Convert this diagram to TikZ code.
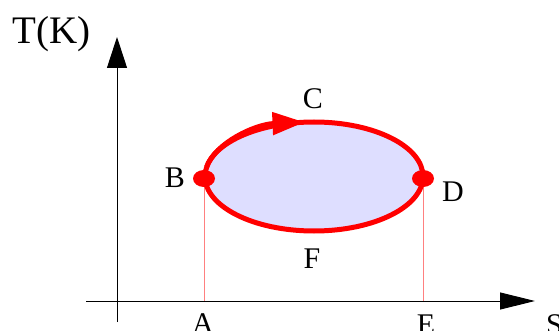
\documentclass[tikz,border=0pt]{standalone}
\usepackage{fontspec}
\setmainfont{Liberation Serif}
\usetikzlibrary{arrows.meta, positioning}
\tikzset{
    axisline/.style={draw=black, line width=1pt},
    cycleline/.style={draw=red, line width=5pt},
    dropline/.style={draw=red!50, line width=1pt},
    statedot/.style={fill=red, draw=none},
    statelabel/.style={font=\fontsize{30}{36}\selectfont, anchor=base, inner sep=0pt},
}
\begin{document}
\begin{tikzpicture}[x=1pt, y=-1pt]
\useasboundingbox (0,0) rectangle (559,331);
% points
\coordinate (cen) at (314,176.5);
\coordinate (B) at (204,178.5);
\coordinate (D) at (423,178.5);
\coordinate (A) at (204,301);
\coordinate (E) at (423,301);
% axes
\coordinate (xs) at (86,301);
\coordinate (xe) at (535,301);
\coordinate (ys) at (117,322);
\coordinate (ye) at (117,37);
\draw[axisline, -{Triangle[length=35pt, width=17pt]}] (xs) -- (xe);
\draw[axisline, -{Triangle[length=31pt, width=20pt]}] (ys) -- (ye);
% drop lines
\draw[dropline] (B) -- (A);
\draw[dropline] (D) -- (E);
% cycle
\path[cycleline, fill=blue!13] (cen) ellipse [x radius=109, y radius=54.5];
\draw[cycleline, -{Triangle[length=32pt, width=22pt]}] (cen) ++(-170:109 and 54.5)
  arc[start angle=-170, end angle=-95, x radius=109, y radius=54.5];
\fill[statedot] (B) ellipse [x radius=11, y radius=8.5];
\fill[statedot] (D) ellipse [x radius=11, y radius=8.5];
% labels
\node[statelabel, font=\fontsize{39}{46}\selectfont, anchor=base west] (lT) at (12,44) {T(K)};
\node[statelabel] (lC) at (313,109) {C};
\node[statelabel] (lB) at (175,188) {B};
\node[statelabel] (lD) at (453,201) {D};
\node[statelabel] (lF) at (312,268) {F};
\node[statelabel] (lA) at (203,333) {A};
\node[statelabel] (lE) at (426,334) {E};
\node[statelabel, anchor=base west] (lS) at (546,334) {S};
\end{tikzpicture}
\end{document}
